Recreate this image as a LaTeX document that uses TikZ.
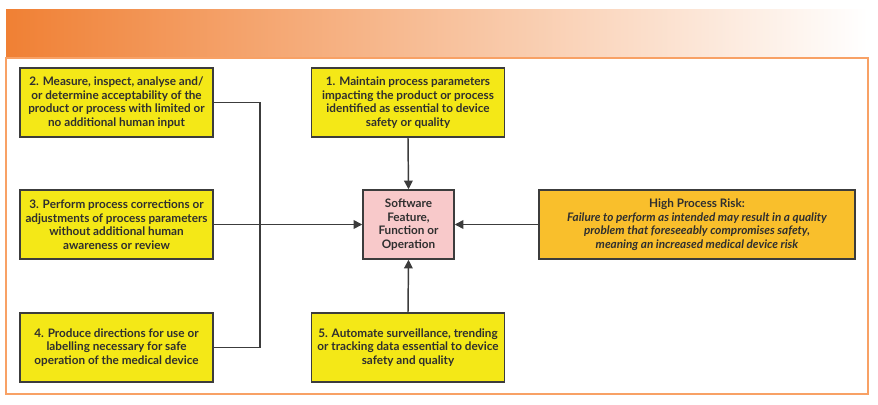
\documentclass[tikz,border=0pt]{standalone}
\usepackage{fontspec}
\setmainfont{Lato}
\usetikzlibrary{arrows.meta, positioning}
\definecolor{boxyellow}{RGB}{244,232,23}
\definecolor{boxpink}{RGB}{248,201,202}
\definecolor{boxorange}{RGB}{249,191,44}
\definecolor{lineink}{RGB}{60,60,60}
\definecolor{textink}{RGB}{47,47,47}
\definecolor{bandorange}{RGB}{240,128,52}
\definecolor{frameorange}{RGB}{248,161,101}

\begin{document}
\begin{tikzpicture}[x=0.75pt,y=-0.75pt]
\tikzset{
  task/.style={draw=lineink, line width=1.1pt, fill=boxyellow, text=textink,
    font=\bfseries\fontsize{8.8}{10.2}\selectfont, align=center,
    minimum width=144.75pt, minimum height=51.75pt, inner sep=1pt},
  core/.style={task, fill=boxpink, minimum width=68.25pt},
  risk/.style={task, fill=boxorange, minimum width=237pt},
  flow/.style={draw=lineink, line width=1.1pt, -{Triangle[length=6.5pt,width=6.5pt]}}
}
\useasboundingbox (0,0) rectangle (878,404);

% header band and frame
\shade[left color=bandorange, middle color={rgb,255:red,250;green,186;blue,140}, right color=white, shading angle=90]
  (6,9) rectangle (868,58);
\draw[frameorange, line width=1.2pt] (6,58) rectangle (868,394);

\node[task] (measure) at (116.5,102.5) {2. Measure, inspect, analyse and/\\or determine acceptability of the\\product or process with limited or\\no additional human input};
\node[task] (maintain) at (408,102.5) {1. Maintain process parameters\\impacting the product or process\\identified as essential to device\\safety or quality};
\node[task] (correct) at (116.5,224.5) {3. Perform process corrections or\\adjustments of process parameters\\without additional human\\awareness or review};
\node[task] (label) at (116.5,347.5) {4. Produce directions for use or\\labelling necessary for safe\\operation of the medical device};
\node[task] (monitor) at (408,347.5) {5. Automate surveillance, trending\\or tracking data essential to device\\safety and quality};
\node[core] (software) at (408.5,224.5) {Software\\Feature,\\Function or\\Operation};
\node[risk] (highrisk) at (697,224.5) {High Process Risk:\\\itshape Failure to perform as intended may result in a quality\\\itshape problem that foreseeably compromises safety,\\\itshape meaning an increased medical device risk};

\coordinate (busT) at (260,102.5);
\coordinate (busB) at (260,347.5);

\draw[draw=lineink, line width=1.1pt] (measure.east) -- (busT) -- (busB) -- (label.east);
\draw[flow] (correct.east) -- (software.west);
\draw[flow] (maintain.south) -- (software.north);
\draw[flow] (monitor.north) -- (software.south);
\draw[flow] (highrisk.west) -- (software.east);
\end{tikzpicture}
\end{document}
